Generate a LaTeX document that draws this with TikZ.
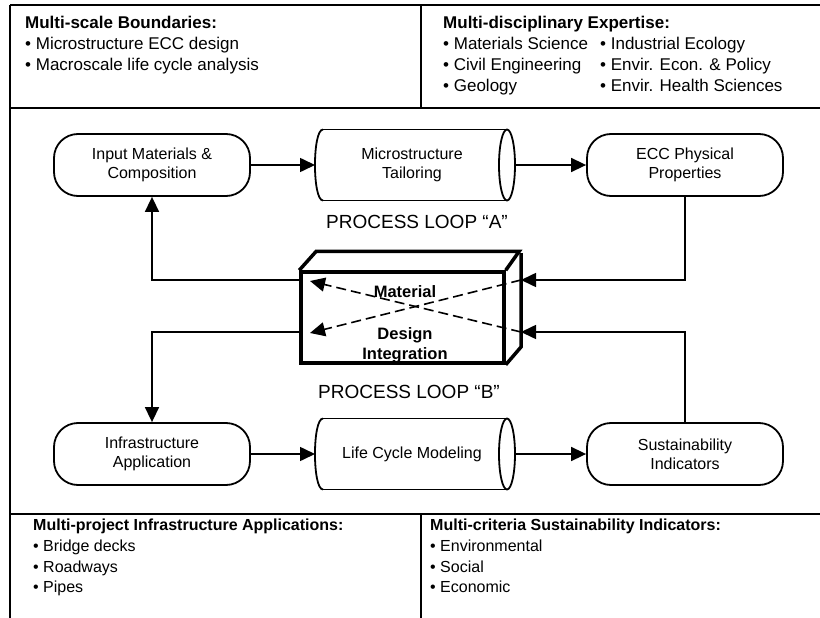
\documentclass[tikz,border=0pt]{standalone}
\usepackage{fontspec}
\setmainfont{Liberation Sans}
\usetikzlibrary{arrows.meta}
\begin{document}
\begin{tikzpicture}[x=1pt,y=-1pt,
  frame/.style={line width=1.8pt},
  proc/.style={draw, line width=1.8pt, rounded corners=24pt, minimum width=196pt, minimum height=62pt, align=center, inner sep=0pt, font=\fontsize{16}{19}\selectfont},
  cyltext/.style={align=center, inner sep=0pt, font=\fontsize{16}{19}\selectfont},
  cylline/.style={line width=1.8pt},
  conn/.style={line width=1.6pt, -{Triangle[length=15pt,width=14pt]}},
  dconn/.style={line width=1.6pt, dash pattern=on 10pt off 5pt, -{Triangle[length=15pt,width=14pt]}},
  toptxt/.style={anchor=base west, inner sep=0pt, font=\fontsize{17}{21}\selectfont},
  tophead/.style={anchor=base west, inner sep=0pt, font=\bfseries\fontsize{17}{21}\selectfont},
  bottxt/.style={anchor=base west, inner sep=0pt, font=\fontsize{16}{21}\selectfont},
  bothead/.style={anchor=base west, inner sep=0pt, font=\bfseries\fontsize{16}{21}\selectfont},
  looplbl/.style={inner sep=0pt, anchor=base, font=\fontsize{19}{22}\selectfont},
  boxtxt/.style={inner sep=0pt, anchor=base, font=\bfseries\fontsize{16.5}{20}\selectfont},
  boxline/.style={line width=3.5pt, line join=miter}
]
\useasboundingbox (0,0) rectangle (820,618);
% frame
\draw[frame] (10,5) -- (820,5);
\draw[frame] (10,5) -- (10,618);
\draw[frame] (10,108) -- (820,108);
\draw[frame] (10,514) -- (820,514);
\draw[frame] (421,5) -- (421,108);
\draw[frame] (421,514) -- (421,618);

% top texts
\node[tophead] (th1) at (25,29) {Multi-scale Boundaries:};
\node[toptxt] (t11) at (25,50) {• Microstructure ECC design};
\node[toptxt] (t12) at (25,71) {• Macroscale life cycle analysis};
\node[tophead] (th2) at (443,29) {Multi-disciplinary Expertise:};
\node[toptxt] (t21) at (443,50) {• Materials Science};
\node[toptxt] (t22) at (443,71) {• Civil Engineering};
\node[toptxt] (t23) at (443,92) {• Geology};
\node[toptxt] (t24) at (600,50) {• Industrial Ecology};
\node[toptxt] (t25) at (600,71) {• Envir. Econ. \& Policy};
\node[toptxt] (t26) at (600,92) {• Envir. Health Sciences};

% bottom texts
\node[bothead] (bh1) at (33,530) {Multi-project Infrastructure Applications:};
\node[bottxt] (b11) at (33,551) {• Bridge decks};
\node[bottxt] (b12) at (33,572) {• Roadways};
\node[bottxt] (b13) at (33,592) {• Pipes};
\node[bothead] (bh2) at (430,530) {Multi-criteria Sustainability Indicators:};
\node[bottxt] (b21) at (430,551) {• Environmental};
\node[bottxt] (b22) at (430,572) {• Social};
\node[bottxt] (b23) at (430,592) {• Economic};

% process nodes
\node[proc] (input) at (152,165) {Input Materials \&\\Composition};
\node[proc] (ecc) at (685,165) {ECC Physical\\Properties};
\node[proc] (infra) at (152,454) {Infrastructure\\Application};
\node[proc] (sust) at (685,454) {Sustainability\\Indicators};

% cylinders
\foreach \cy/\nm in {165/micro,454/lcm}{
  \draw[cylline] (323,\cy-35.5) -- (507,\cy-35.5);
  \draw[cylline] (323,\cy+35.5) -- (507,\cy+35.5);
  \draw[cylline] (507,\cy) ellipse [x radius=8pt, y radius=35.5pt];
  \draw[cylline] (323,\cy-35.5) .. controls (312.3,\cy-35.5) and (312.3,\cy+35.5) .. (323,\cy+35.5);
  \coordinate (\nm W) at (315,\cy);
  \coordinate (\nm E) at (515,\cy);
}
\node[cyltext] (micro) at (412,165) {Microstructure\\Tailoring};
\node[cyltext] (lcm) at (412,454) {Life Cycle Modeling};

% loop labels
\node[looplbl] (loopA) at (417,228) {PROCESS LOOP “A”};
\node[looplbl] (loopB) at (409,398) {PROCESS LOOP “B”};

% central 3D box
\node[draw, boxline, minimum width=203pt, minimum height=91pt, inner sep=0pt] (mdi) at (402.5,317.5) {};
\draw[boxline] (mdi.north west) -- ++(17,-19) -- ++(203,0) -- (mdi.north east);
\draw[boxline] (521,253) -- (521,347) -- (mdi.south east);
\node[boxtxt] (mat) at (405,297) {Material};
\node[boxtxt] (des) at (405,339) {Design};
\node[boxtxt] (int) at (405,359) {Integration};

\coordinate (bxA) at (521,280);
\coordinate (bxB) at (521,332);
\coordinate (bxC) at (301,280);
\coordinate (bxD) at (301,332);
\coordinate (dA) at (310,333);
\coordinate (dB) at (310,281);

% connectors
\draw[conn] (input.east) -- (microW);
\draw[conn] (microE) -- (ecc.west);
\draw[conn] (infra.east) -- (lcmW);
\draw[conn] (lcmE) -- (sust.west);
\draw[conn] (ecc.south) |- (bxA);
\draw[conn] (sust.north) |- (bxB);
\draw[conn] (bxC) -| (input.south);
\draw[conn] (bxD) -| (infra.north);
\draw[dconn] (bxA) -- (dA);
\draw[dconn] (bxB) -- (dB);
\end{tikzpicture}
\end{document}
